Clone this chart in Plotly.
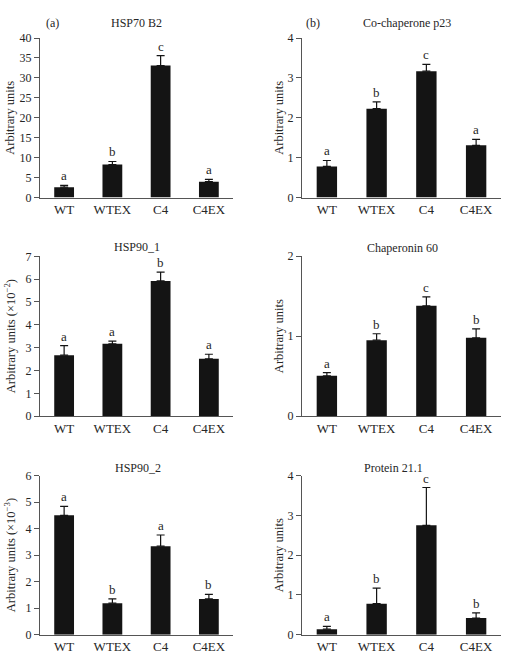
import plotly.graph_objects as go

categories = ["WT", "WTEX", "C4", "C4EX"]

hsp70_vals = [2.6, 8.3, 33.1, 4.0]
hsp70_err = [0.45, 0.75, 2.5, 0.55]
hsp70_letters = ["a", "b", "c", "a"]

p23_vals = [0.78, 2.23, 3.17, 1.31]
p23_err = [0.15, 0.17, 0.17, 0.15]
p23_letters = ["a", "b", "c", "a"]

hsp90_1_vals = [2.67, 3.17, 5.92, 2.51]
hsp90_1_err = [0.42, 0.12, 0.39, 0.2]
hsp90_1_letters = ["a", "a", "b", "a"]

cpn60_vals = [0.505, 0.95, 1.38, 0.98]
cpn60_err = [0.04, 0.08, 0.11, 0.11]
cpn60_letters = ["a", "b", "c", "b"]

hsp90_2_vals = [4.50, 1.19, 3.34, 1.35]
hsp90_2_err = [0.34, 0.16, 0.42, 0.17]
hsp90_2_letters = ["a", "b", "a", "b"]

p211_vals = [0.14, 0.78, 2.75, 0.42]
p211_err = [0.07, 0.39, 0.95, 0.13]
p211_letters = ["a", "b", "c", "b"]

panels = [
    dict(title="HSP70 B2", vals=hsp70_vals, err=hsp70_err, letters=hsp70_letters,
         ymax=40, dtick=5, ytitle="Arbitrary units",
         xpx=(40, 233), ypx=(31.7, 194.7), title_y=16, title_x=136,
         ytitle_x=10, tag="(a)", tag_x=52),
    dict(title="Co-chaperone p23", vals=p23_vals, err=p23_err, letters=p23_letters,
         ymax=4, dtick=1, ytitle="Arbitrary units",
         xpx=(302, 501), ypx=(31.7, 194.7), title_y=16, title_x=407,
         ytitle_x=279, tag="(b)", tag_x=313),
    dict(title="HSP90_1", vals=hsp90_1_vals, err=hsp90_1_err, letters=hsp90_1_letters,
         ymax=7, dtick=1, ytitle="Arbitrary units (×10<sup>−2</sup>)",
         xpx=(40, 233), ypx=(254.7, 418), title_y=245, title_x=137, ytitle_x=10),
    dict(title="Chaperonin 60", vals=cpn60_vals, err=cpn60_err, letters=cpn60_letters,
         ymax=2, dtick=1, ytitle="Arbitrary units",
         xpx=(302, 501), ypx=(254.5, 418), title_y=246, title_x=402, ytitle_x=279),
    dict(title="HSP90_2", vals=hsp90_2_vals, err=hsp90_2_err, letters=hsp90_2_letters,
         ymax=6, dtick=1, ytitle="Arbitrary units (×10<sup>−3</sup>)",
         xpx=(40, 233), ypx=(478.7, 641.3), title_y=471, title_x=138, ytitle_x=10),
    dict(title="Protein 21.1", vals=p211_vals, err=p211_err, letters=p211_letters,
         ymax=4, dtick=1, ytitle="Arbitrary units",
         xpx=(302, 501), ypx=(478.7, 641.3), title_y=471, title_x=393, ytitle_x=279),
]

W, H = 506, 662
FONT = "Liberation Serif, Times New Roman, serif"
TXT = "#262626"
AX = "#555555"
BAR = "#141414"

fig = go.Figure()
annotations = []
layout = {}

for i, p in enumerate(panels):
    n = "" if i == 0 else str(i + 1)
    xa, ya = "x" + n, "y" + n
    tops = [v + e for v, e in zip(p["vals"], p["err"])]
    fig.add_trace(go.Bar(
        x=categories, y=p["vals"], xaxis=xa, yaxis=ya,
        width=0.41, marker=dict(color=BAR, line=dict(width=0)),
        error_y=dict(type="data", symmetric=False, array=p["err"],
                     arrayminus=[0] * len(p["err"]), color=BAR,
                     thickness=1.2, width=4),
        showlegend=False,
    ))
    x0, x1 = p["xpx"]
    yt, yb = p["ypx"]
    layout["xaxis" + n] = dict(
        domain=[x0 / W, x1 / W], anchor=ya, type="category",
        categoryarray=categories, range=[-0.5, 3.5],
        showline=True, linecolor=AX, linewidth=1, ticks="",
        tickfont=dict(family=FONT, size=13, color=TXT), showgrid=False,
        zeroline=False, fixedrange=True,
    )
    layout["yaxis" + n] = dict(
        domain=[1 - yb / H, 1 - yt / H], anchor=xa,
        range=[0, p["ymax"]], dtick=p["dtick"], tick0=0,
        showline=True, linecolor=AX, linewidth=1, ticks="outside",
        ticklen=5, tickcolor=AX, tickwidth=1,
        tickfont=dict(family=FONT, size=12, color=TXT), showgrid=False,
        zeroline=False, fixedrange=True,
    )
    annotations.append(dict(
        text=p["title"], xref="paper", yref="paper",
        x=p["title_x"] / W, y=1 - p["title_y"] / H,
        xanchor="center", yanchor="middle", showarrow=False,
        font=dict(family=FONT, size=12, color=TXT),
    ))
    if "tag" in p:
        annotations.append(dict(
            text=p["tag"], xref="paper", yref="paper",
            x=p["tag_x"] / W, y=1 - p["title_y"] / H,
            xanchor="center", yanchor="middle", showarrow=False,
            font=dict(family=FONT, size=12, color=TXT),
        ))
    annotations.append(dict(
        text=p["ytitle"], xref="paper", yref="paper",
        x=p["ytitle_x"] / W, y=1 - (yt + yb) / 2 / H,
        xanchor="center", yanchor="middle", textangle=-90, showarrow=False,
        font=dict(family=FONT, size=12.5, color=TXT),
    ))
    for c, t, L in zip(categories, tops, p["letters"]):
        annotations.append(dict(
            text=L, xref=xa, yref=ya, x=c, y=t,
            xanchor="center", yanchor="bottom", yshift=0, showarrow=False,
            font=dict(family=FONT, size=13, color=TXT),
        ))

fig.update_layout(
    width=W, height=H, margin=dict(l=0, r=0, t=0, b=0),
    paper_bgcolor="white", plot_bgcolor="white",
    annotations=annotations, bargap=0.5, **layout,
)

fig.write_html("out.html")
